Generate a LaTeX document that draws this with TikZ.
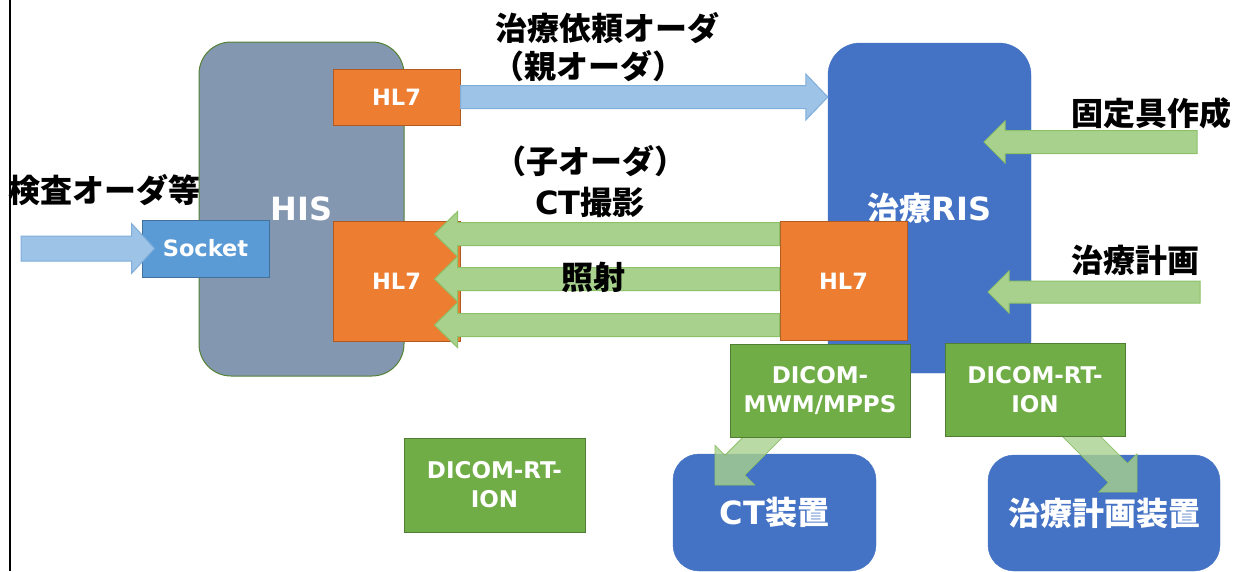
\documentclass[tikz,border=0pt]{standalone}
\usepackage{fontspec}
\setmainfont{DejaVu Sans}
\newfontfamily\jp{Noto Sans CJK JP}
\usetikzlibrary{calc}

\definecolor{hisgrey}{HTML}{8497B0}
\definecolor{hisedge}{HTML}{548235}
\definecolor{risblue}{HTML}{4472C4}
\definecolor{hlorange}{HTML}{ED7D31}
\definecolor{hledge}{HTML}{AE5A21}
\definecolor{sockblue}{HTML}{5B9BD5}
\definecolor{sockedge}{HTML}{41719C}
\definecolor{dcmgreen}{HTML}{70AD47}
\definecolor{dcmedge}{HTML}{507E32}
\definecolor{flowgreen}{HTML}{A9D18E}
\definecolor{flowgreenedge}{HTML}{8CC168}
\definecolor{flowblue}{HTML}{9DC3E6}
\definecolor{flowblueedge}{HTML}{7FAEDC}

\tikzset{
  sysbox/.style={rectangle, rounded corners=32pt, fill=risblue, draw=risblue,
    inner sep=0pt, text=white, font=\bfseries\fontsize{32}{38}\selectfont},
  hlbox/.style={rectangle, fill=hlorange, draw=hledge, line width=1pt, inner sep=0pt,
    minimum width=127pt, text=white, font=\bfseries\fontsize{22.5}{26}\selectfont},
  dcmbox/.style={rectangle, fill=dcmgreen, draw=dcmedge, line width=1pt, inner sep=0pt,
    minimum width=180pt, minimum height=93pt, align=center, text=white,
    font=\bfseries\fontsize{23}{29}\selectfont},
  tag/.style={font=\jp\bfseries\fontsize{32}{41}\selectfont, inner sep=0pt},
  greenflow/.style={fill=flowgreen, draw=flowgreenedge, line width=1pt},
  blueflow/.style={fill=flowblue, draw=flowblueedge, line width=1pt},
  diagflow/.style={fill=flowgreen, fill opacity=.8, draw=flowgreenedge, line width=.8pt},
}

% block arrow: [style]{from}{to}{half shaft}{head length}{half head}
\newcommand\blockarrow[6][]{%
  \coordinate (ba-s) at (#2);
  \coordinate (ba-t) at (#3);
  \coordinate (ba-h) at ($(ba-t)!#5!(ba-s)$);
  \draw[#1] ($(ba-s)!#4!90:(ba-t)$) -- ($(ba-h)!#4!90:(ba-t)$)
    -- ($(ba-h)!#6!90:(ba-t)$) -- (ba-t)
    -- ($(ba-h)!#6!-90:(ba-t)$) -- ($(ba-h)!#4!-90:(ba-t)$)
    -- ($(ba-s)!#4!-90:(ba-t)$) -- cycle;
}

\begin{document}
\begin{tikzpicture}[x=1pt,y=-1pt]
  \useasboundingbox (0,0) rectangle (1234,571);
  \draw[line width=2pt] (10,0) -- (10,571);

  % HIS side
  \node[sysbox, fill=hisgrey, draw=hisedge, line width=1pt,
    minimum width=205pt, minimum height=334pt] (his) at (301.5,209) {HIS};
  \node[hlbox, minimum height=56pt] (hlorder) at (396.5,97) {HL7};
  \node[hlbox, minimum height=120pt] (hlhis) at (396.5,281) {HL7};
  \node[rectangle, fill=sockblue, draw=sockedge, line width=1pt, inner sep=0pt,
    minimum width=127pt, minimum height=57pt, text=white,
    font=\bfseries\fontsize{22.5}{26}\selectfont] (socket) at (205.5,248.5) {Socket};

  % RIS side
  \node[sysbox, minimum width=203pt, minimum height=330pt] (ris) at (929.5,208) {{\jp 治療}RIS};
  \node[hlbox, minimum height=119pt] (hlris) at (843.5,281) {HL7};

  % devices
  \node[sysbox, rounded corners=26pt, minimum width=203pt, minimum height=117pt]
    (ctdev) at (774.5,512.5) {CT{\jp 装置}};
  \node[sysbox, rounded corners=26pt, minimum width=232pt, minimum height=116pt]
    (plandev) at (1104,513) {\jp 治療計画装置};

  % flows
  \coordinate (examin) at (21,248.5);
  \blockarrow[blueflow]{examin}{$(socket.west)+(13,0)$}{12.5pt}{23pt}{25pt}
  \blockarrow[blueflow]{hlorder.east}{hlorder.east -| ris.west}{11.5pt}{22pt}{23pt}
  \foreach \dy in {-47,-2,44}{
    \blockarrow[greenflow]{$(hlris.west)+(0,\dy)$}{$(hlhis.east)+(-26,\dy)$}{11.5pt}{23pt}{22.5pt}
  }

  \coordinate (fixin) at (1197,142);
  \coordinate (fixtip) at (984,142);
  \blockarrow[greenflow]{fixin}{fixtip}{11.5pt}{21pt}{21pt}
  \coordinate (planin) at (1200,292);
  \coordinate (plantip) at (988,292);
  \blockarrow[greenflow]{planin}{plantip}{11pt}{21pt}{21pt}

  \coordinate (mwmc) at (800,400);
  \coordinate (cttip) at (715,485);
  \blockarrow[diagflow]{mwmc}{cttip}{14pt}{28pt}{28pt}
  \coordinate (rtc) at (1035,390);
  \coordinate (plandevtip) at (1137,492);
  \blockarrow[diagflow]{rtc}{plandevtip}{13.5pt}{27pt}{27pt}

  % DICOM interfaces
  \node[dcmbox] (mwm) at (820,391) {DICOM-\\MWM/MPPS};
  \node[dcmbox] (rtion) at (1035,389.5) {DICOM-RT-\\ION};
  \node[dcmbox, minimum width=181pt, minimum height=94pt] (rtionhis) at (494.5,485) {DICOM-RT-\\ION};

  % labels
  \node[tag] (orderlbl) at (607,28) {治療依頼オーダ};
  \node[tag] (parentlbl) at (588,66) {（親オーダ）};
  \node[tag, align=center] (childlbl) at (590,182) {（子オーダ）\\{\rmfamily CT}撮影};
  \node[tag] (irradlbl) at (593,277) {照射};
  \node[tag, anchor=west] (examlbl) at (8,190) {検査オーダ等};
  \node[tag] (fixlbl) at (1151,113) {固定具作成};
  \node[tag] (planlbl) at (1135,260) {治療計画};
\end{tikzpicture}
\end{document}
